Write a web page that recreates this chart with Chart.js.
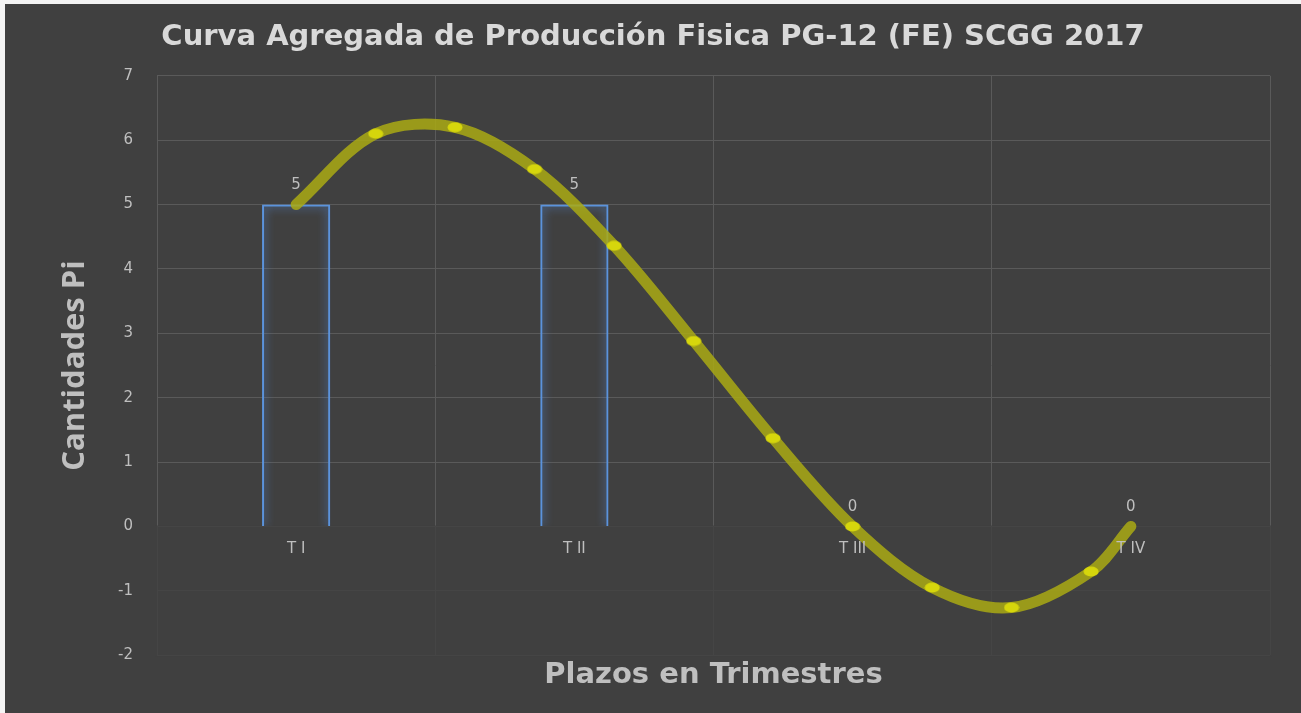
<!DOCTYPE html>
<html>
<head>
<meta charset="utf-8">
<script src="https://cdn.jsdelivr.net/npm/chart.js@4"></script>
<style>
  html, body { margin: 0; padding: 0; background: #f4f4f4; }
  #wrap { position: absolute; left: 5px; top: 4px; width: 1296px; height: 709px; background: #404040; }
</style>
</head>
<body>
<div id="wrap"><canvas id="myChart"></canvas></div>
<script>
const ctx = document.getElementById('myChart');

const categories = ['T I', 'T II', 'T III', 'T IV'];
const barValues = [5, 5, 0, 0];
// curve points (x in category units, 0 = T I)
const curveX = [0, 0.286, 0.571, 0.857, 1.143, 1.429, 1.714, 2, 2.286, 2.571, 2.857, 3];
const curveY = [5, 6.1, 6.2, 5.55, 4.36, 2.88, 1.37, 0, -0.95, -1.26, -0.7, 0];
const yMin = -2;
const yMax = 7;

const tickColor = '#bfbfbf';

// flattened dot marker like the original
const dot = document.createElement('canvas');
dot.width = 16;
dot.height = 11;
const dctx = dot.getContext('2d');
dctx.fillStyle = '#d6d60c';
dctx.beginPath();
dctx.ellipse(8, 5.5, 7.5, 5, 0, 0, Math.PI * 2);
dctx.fill();

// glow around the bar outlines
const glowPlugin = {
  id: 'glow',
  beforeDatasetDraw(chart, args) {
    if (args.index !== 0) return;
    const c = chart.ctx;
    c.save();
    c.shadowColor = 'rgba(90,150,240,1)';
    c.shadowBlur = 10;
  },
  afterDatasetDraw(chart, args) {
    if (args.index !== 0) return;
    chart.ctx.restore();
  }
};

// gridlines under zero are very faint in the original
const dimPlugin = {
  id: 'dim',
  beforeDatasetsDraw(chart) {
    const {ctx: c, chartArea: a, scales} = chart;
    const y0 = scales.y.getPixelForValue(0);
    c.save();
    c.fillStyle = 'rgba(64,64,64,0.8)';
    c.fillRect(a.left - 2, y0 - 1, a.right - a.left + 4, a.bottom - y0 + 2);
    c.restore();
  }
};

// value labels above the bars
const valueLabels = {
  id: 'valueLabels',
  afterDatasetsDraw(chart) {
    const meta = chart.getDatasetMeta(0);
    const c = chart.ctx;
    c.save();
    c.fillStyle = tickColor;
    c.font = '15px "DejaVu Sans"';
    c.textAlign = 'center';
    c.textBaseline = 'middle';
    meta.data.forEach((el, i) => {
      c.fillText(String(barValues[i]), el.x, el.y - 19);
    });
    c.restore();
  }
};

new Chart(ctx, {
  type: 'bar',
  data: {
    labels: categories,
    datasets: [
      {
        label: 'Pi',
        data: barValues,
        xAxisID: 'x',
        backgroundColor: 'rgba(0,0,0,0)',
        borderColor: '#5b93dc',
        borderWidth: 2,
        grouped: false,
        categoryPercentage: 1,
        barPercentage: 0.245,
        order: 1
      },
      {
        type: 'line',
        label: 'Curva',
        data: curveX.map((x, i) => ({ x: x, y: curveY[i] })),
        xAxisID: 'xl',
        borderColor: 'rgba(170,170,20,0.85)',
        borderWidth: 11,
        borderCapStyle: 'round',
        tension: 0.33,
        pointStyle: dot,
        pointRadius: [0, 5, 5, 5, 5, 5, 5, 5, 5, 5, 5, 0],
        fill: false,
        order: 0
      }
    ]
  },
  plugins: [glowPlugin, dimPlugin, valueLabels],
  options: {
    responsive: true,
    maintainAspectRatio: false,
    animation: false,
    layout: { padding: { left: 31, right: 31 } },
    plugins: {
      legend: { display: false },
      tooltip: { enabled: false },
      title: {
        display: true,
        text: 'Curva Agregada de Producción Fisica PG-12 (FE) SCGG 2017',
        color: '#d9d9d9',
        font: { family: '"DejaVu Sans"', size: 29, weight: 'bold' },
        padding: { top: 16, bottom: 21 }
      }
    },
    scales: {
      x: {
        position: { y: 0 },
        grid: { display: false, drawTicks: false },
        border: { display: false },
        ticks: { z: 1, color: tickColor, font: { family: '"DejaVu Sans"', size: 15 }, padding: 14 }
      },
      xt: {
        type: 'category',
        position: 'bottom',
        offset: true,
        grid: { display: true, color: '#5a5a5a', offset: true, drawTicks: false },
        border: { display: false },
        ticks: { display: false },
        title: {
          display: true,
          text: 'Plazos en Trimestres',
          color: tickColor,
          font: { family: '"DejaVu Sans"', size: 29, weight: 'bold' },
          padding: { top: 3, bottom: 20 }
        }
      },
      xl: {
        type: 'linear',
        display: false,
        offset: false,
        min: -0.5,
        max: 3.5
      },
      y: {
        min: yMin,
        max: yMax,
        ticks: { stepSize: 1, color: tickColor, font: { family: '"DejaVu Sans"', size: 15 }, padding: 24 },
        grid: { color: '#5a5a5a', drawTicks: false },
        border: { display: true, color: '#5a5a5a' },
        title: {
          display: true,
          text: 'Cantidades Pi',
          color: tickColor,
          font: { family: '"Open Sans"', size: 31, weight: 'bold' },
          padding: { top: 21, bottom: 0 }
        },
        afterFit(s) { s.width = 121; }
      }
    }
  }
});
</script>
</body>
</html>
